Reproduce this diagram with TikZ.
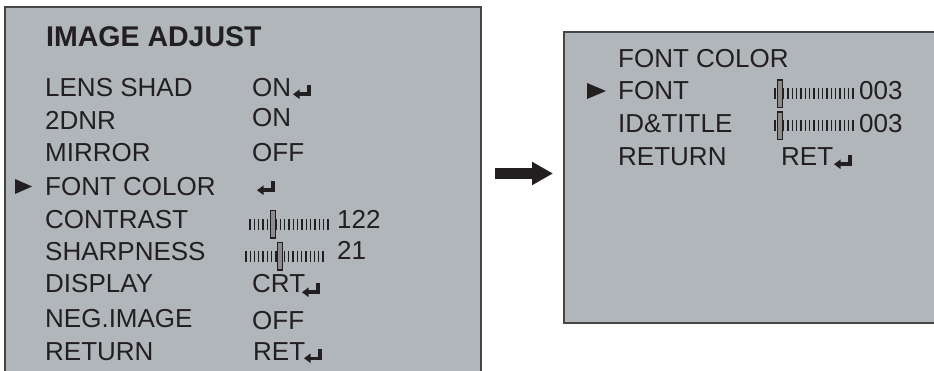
\documentclass[tikz,border=0pt]{standalone}
\usepackage{fontspec}
\setmainfont{Liberation Sans}
\usetikzlibrary{arrows.meta}
\definecolor{panel}{RGB}{177,182,186}
\definecolor{ink}{RGB}{35,31,32}
\definecolor{framec}{RGB}{70,70,70}
\definecolor{thumbfill}{RGB}{140,140,140}
\newcommand\retsym[2]{%
  \fill[ink] (#1+14,#2-11) rectangle (#1+18,#2);
  \fill[ink] (#1+5,#2-3.5) rectangle (#1+18,#2);
  \fill[ink] (#1,#2-1.75) -- (#1+6.5,#2-6.5) -- (#1+6.5,#2+3) -- cycle;}
\newcommand\slidr[4]{%
  \foreach \k in {0,...,18}{\draw[ink,line width=1.3pt] ({#1+\k*(#2-#1)/18},#4-5.5) -- ({#1+\k*(#2-#1)/18},#4+5.5);}
  \draw[ink,line width=1.3pt,fill=thumbfill] (#3-2.5,#4-14) rectangle (#3+2.5,#4+13.5);}
\begin{document}
\begin{tikzpicture}[x=1pt,y=-1pt,
  lbl/.style={anchor=base west,inner sep=0pt,text=ink,font=\fontsize{26}{30}\selectfont},
  ttl/.style={anchor=base west,inner sep=0pt,text=ink,font=\fontsize{28.5}{32}\selectfont\bfseries},
  panelbox/.style={fill=panel,draw=framec,line width=1.5pt}]
\useasboundingbox (0,0) rectangle (934,371);
% panels
\draw[panelbox] (5,7) rectangle (481,385);
\draw[panelbox] (564,32) rectangle (950,323);
% left panel
\node[ttl] (title) at (46,47) {IMAGE ADJUST};
\node[lbl] (l1) at (45,97) {LENS SHAD};
\node[lbl] (l2) at (45,130) {2DNR};
\node[lbl] (l3) at (45,162) {MIRROR};
\node[lbl] (l4) at (45,196) {FONT COLOR};
\node[lbl] (l5) at (45,229) {CONTRAST};
\node[lbl] (l6) at (45,261) {SHARPNESS};
\node[lbl] (l7) at (45,293) {DISPLAY};
\node[lbl] (l8) at (45,327) {NEG.IMAGE};
\node[lbl] (l9) at (45,360) {RETURN};
\fill[ink] (15,179) -- (32,186.5) -- (15,194) -- cycle;
\node[lbl] (v1) at (252,97) {ON};
\retsym{293}{96}
\node[lbl] (v2) at (252,127) {ON};
\node[lbl] (v3) at (252,162) {OFF};
\retsym{257}{192}
\slidr{250}{328}{273}{224.5}
\node[lbl] (v5) at (337,228.5) {122};
\slidr{246}{323}{280}{256.5}
\node[lbl] (v6) at (337,260) {21};
\node[lbl] (v7) at (252,293) {CRT};
\retsym{302}{294}
\node[lbl] (v8) at (252,329) {OFF};
\node[lbl] (v9) at (253,360) {RET};
\retsym{304}{360}
% arrow
\coordinate (arrS) at (495,173.5);
\coordinate (arrE) at (553,173.5);
\draw[ink,line width=11pt,-{Triangle[length=21pt,width=22pt]}] (arrS) -- (arrE);
% right panel
\node[lbl] (r0) at (618,68) {FONT COLOR};
\node[lbl] (r1) at (618,100) {FONT};
\node[lbl] (r2) at (618,133) {ID\&TITLE};
\node[lbl] (r3) at (618,166) {RETURN};
\fill[ink] (587,83) -- (606,91) -- (587,99) -- cycle;
\slidr{775}{853}{780}{94}
\node[lbl] (rv1) at (859,100) {003};
\slidr{775}{853}{780}{126}
\node[lbl] (rv2) at (859,133) {003};
\node[lbl] (rv3) at (781,166) {RET};
\retsym{834}{166}
\end{tikzpicture}
\end{document}
